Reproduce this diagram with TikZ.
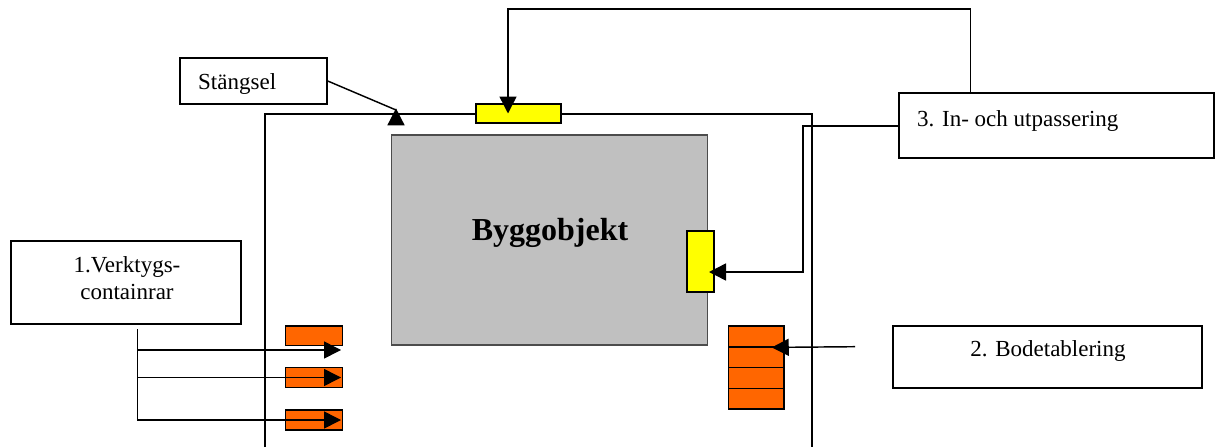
\documentclass[tikz,border=0pt]{standalone}
\usepackage{fontspec}
\setmainfont{Liberation Serif}
\usetikzlibrary{arrows.meta,calc}
\definecolor{orng}{RGB}{255,102,0}
\definecolor{yllw}{RGB}{255,255,0}
\definecolor{bldg}{RGB}{192,192,192}
\tikzset{
  lw/.style={line width=1.45pt},
  box/.style={draw=black,lw,fill=white,rectangle,inner sep=0pt},
  ylbox/.style={draw=black,lw,fill=yllw,rectangle,inner sep=0pt},
  orbox/.style={draw=black,lw,fill=orng,rectangle,inner sep=0pt},
  txt/.style={font=\fontsize{23}{26.5}\selectfont,inner sep=0pt},
  arr/.style={lw,-{Triangle[length=17pt,width=17pt]}},
  conn/.style={lw}
}
\begin{document}
\begin{tikzpicture}[x=1pt,y=-1pt]
\useasboundingbox (0,0) rectangle (1215,447);
% fence
\draw[conn] (265,447) -- (265,114) -- (812,114) -- (812,447);
% building
\node[draw=black!70,line width=1.2pt,fill=bldg,rectangle,inner sep=0pt,minimum width=316pt,minimum height=210pt] (bygg) at (549.85,240) {};
\node[font=\fontsize{32}{36}\selectfont\bfseries,anchor=base,inner sep=0pt] (byggtxt) at (550,240.5) {Byggobjekt};
% gates
\node[ylbox,minimum width=85pt,minimum height=19pt] (gate1) at (518.5,113.5) {};
\node[ylbox,minimum width=27pt,minimum height=61pt] (gate2) at (700.5,261.5) {};
% boxes
\node[box,minimum width=147pt,minimum height=46pt] (st) at (253.5,81) {};
\node[txt,anchor=base west] (sttxt) at (198,89) {Stängsel};
\node[box,minimum width=315pt,minimum height=65pt] (b3) at (1056.5,125.5) {};
\node[txt,anchor=base west] (b3txt) at (917,126.5) {3. In- och utpassering};
\node[box,minimum width=309pt,minimum height=62pt] (b2) at (1047.5,357) {};
\node[txt,anchor=base] (b2txt) at (1048,356.7) {2. Bodetablering};
\node[box,minimum width=230pt,minimum height=83pt] (b1) at (126,282.5) {};
\node[txt,anchor=base,align=center] (b1txt1) at (127,272.7) {1.Verktygs-};
\node[txt,anchor=base,align=center] (b1txt2) at (127,299.4) {containrar};
% containers left
\node[orbox,minimum width=56.6pt,minimum height=19.6pt] (c1) at (314,335.8) {};
\node[orbox,minimum width=56.6pt,minimum height=19.6pt] (c2) at (314,377.5) {};
\node[orbox,minimum width=56.6pt,minimum height=19.6pt] (c3) at (314,420) {};
% bodar right
\node[orbox,minimum width=55.3pt,minimum height=20.7pt] (d1) at (756.35,336.35) {};
\node[orbox,minimum width=55.3pt,minimum height=20.7pt] (d2) at (756.35,357.2) {};
\node[orbox,minimum width=55.3pt,minimum height=20.7pt] (d3) at (756.35,378) {};
\node[orbox,minimum width=55.3pt,minimum height=20.7pt] (d4) at (756.35,398.65) {};
% connectors
\coordinate (vtop) at (137.7,329);
\draw[arr] (vtop) |- ([xshift=-2pt,yshift=-14.2pt]c1.east);
\draw[arr] (vtop) |- ([xshift=-2pt]c2.east);
\draw[arr] (vtop) |- ([xshift=-2pt]c3.east);
\coordinate (b2end) at (855,346.7);
\draw[arr] (b2end) -- ([xshift=15.4pt]d1.south);
\draw[arr] ([xshift=-85.8pt]b3.north) |- (508,9) -- ([xshift=-10.5pt]gate1.center);
\draw[arr] ([yshift=-0.5pt]b3.west) -| (803,272) -- ([xshift=8.5pt,yshift=-10.5pt]gate2.center);
\draw[arr] (st.east) -- (396,110) -- (396,124.3) -- (396,108.3);
\end{tikzpicture}
\end{document}
